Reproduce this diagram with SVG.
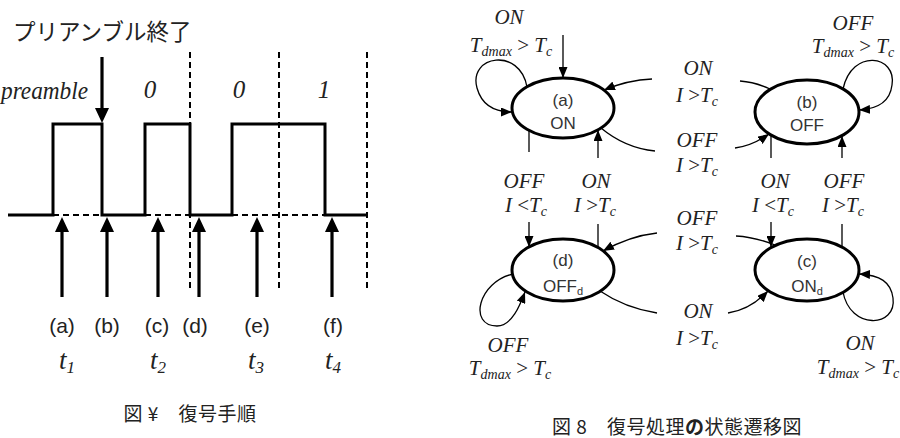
<svg xmlns="http://www.w3.org/2000/svg" width="900" height="438" viewBox="0 0 900 438">
<style>
.sig{fill:none;stroke:#000;stroke-width:3}
.dash{fill:none;stroke:#000;stroke-width:2;stroke-dasharray:6,4}
.big{stroke:#000;stroke-width:3.2;fill:none}
.thin{fill:none;stroke:#000;stroke-width:1.3}
.node{fill:#fff;stroke:#000;stroke-width:3}
.jp{font-family:"Noto Sans CJK JP",sans-serif;fill:#222}
.it{font-family:"Liberation Serif",serif;font-style:italic;fill:#222}
.ns{font-family:"Liberation Sans",sans-serif;fill:#333;font-size:17px;text-anchor:middle}
.lb{font-family:"Liberation Serif",serif;font-size:21px;text-anchor:middle;fill:#222}
.sb{font-style:italic;font-size:14px}
.ab{font-family:"Liberation Sans",sans-serif;font-size:21px;fill:#222;text-anchor:middle}
</style>
<defs>
<marker id="bh" viewBox="0 -7 15 14" refX="0" refY="0" markerWidth="15" markerHeight="14" markerUnits="userSpaceOnUse" orient="auto"><path d="M0,-7 L15,0 L0,7 z" fill="#000"/></marker>
<marker id="ah" viewBox="0 -4.5 11 9" refX="11" refY="0" markerWidth="11" markerHeight="9" markerUnits="userSpaceOnUse" orient="auto"><path d="M0,-4.5 L11,0 L0,4.5 z" fill="#000"/></marker>
</defs>

<!-- Left figure -->
<g id="left-figure">
<text class="jp" x="13" y="40" font-size="22.5">プリアンブル終了</text>
<text class="it" x="1" y="99" font-size="25" textLength="87" lengthAdjust="spacingAndGlyphs">preamble</text>
<text class="it" x="150" y="98" font-size="25" text-anchor="middle">0</text>
<text class="it" x="239" y="98" font-size="25" text-anchor="middle">0</text>
<text class="it" x="324" y="98" font-size="25" text-anchor="middle">1</text>
<line class="dash" x1="190" y1="52" x2="190" y2="292"/>
<line class="dash" x1="279" y1="52" x2="279" y2="292"/>
<line class="dash" x1="367" y1="52" x2="367" y2="292"/>
<path class="dash" d="M53,215 H102 M145,215 H190 M232,215 H325"/>
<path class="sig" d="M8,215 H53 V124 H102 V215 H145 V124 H190 V215 H232 V124 H325 V215 H367"/>
<line class="big" x1="102" y1="57" x2="102" y2="108" marker-end="url(#bh)"/>
</g>
<g id="sample-arrows">
<line class="big" x1="62" y1="297" x2="62" y2="232" marker-end="url(#bh)"/>
<line class="big" x1="107" y1="297" x2="107" y2="232" marker-end="url(#bh)"/>
<line class="big" x1="158" y1="297" x2="158" y2="232" marker-end="url(#bh)"/>
<line class="big" x1="199" y1="297" x2="199" y2="232" marker-end="url(#bh)"/>
<line class="big" x1="257" y1="297" x2="257" y2="232" marker-end="url(#bh)"/>
<line class="big" x1="332" y1="297" x2="332" y2="232" marker-end="url(#bh)"/>
</g>
<g id="sample-labels">
<text class="ab" x="62" y="333">(a)</text>
<text class="ab" x="107" y="333">(b)</text>
<text class="ab" x="157" y="333">(c)</text>
<text class="ab" x="195" y="333">(d)</text>
<text class="ab" x="257" y="333">(e)</text>
<text class="ab" x="333" y="333">(f)</text>
<text class="it" x="59" y="369" font-size="27">t<tspan font-size="17" dy="4">1</tspan></text>
<text class="it" x="150" y="369" font-size="27">t<tspan font-size="17" dy="4">2</tspan></text>
<text class="it" x="248" y="369" font-size="27">t<tspan font-size="17" dy="4">3</tspan></text>
<text class="it" x="325" y="369" font-size="27">t<tspan font-size="17" dy="4">4</tspan></text>
<text class="jp" x="190" y="421" font-size="19" text-anchor="middle" letter-spacing="0.5">図 ¥　復号手順</text>
</g>

<!-- Right figure: state diagram -->
<g id="connectors">
<line class="thin" x1="563" y1="35" x2="563" y2="78" marker-end="url(#ah)"/>
<path class="thin" d="M527,87 C520,47 468,55 477,88 C482,106 496,112 512,112" marker-end="url(#ah)"/>
<path class="thin" d="M770,89 Q755,82 740,81"/>
<path class="thin" d="M652,79 Q628,80 604,90" marker-end="url(#ah)"/>
<path class="thin" d="M601,128 Q625,148 655,151"/>
<path class="thin" d="M735,148 Q752,146 769,134" marker-end="url(#ah)"/>
<line class="thin" x1="529" y1="130" x2="529" y2="152"/>
<line class="thin" x1="529" y1="222" x2="529" y2="247" marker-end="url(#ah)"/>
<line class="thin" x1="598" y1="247" x2="598" y2="224"/>
<line class="thin" x1="598" y1="158" x2="598" y2="130" marker-end="url(#ah)"/>
<line class="thin" x1="771" y1="135" x2="771" y2="158"/>
<line class="thin" x1="771" y1="222" x2="771" y2="247" marker-end="url(#ah)"/>
<line class="thin" x1="842" y1="247" x2="842" y2="224"/>
<line class="thin" x1="842" y1="158" x2="842" y2="136" marker-end="url(#ah)"/>
<path class="thin" d="M843,89 C852,48 897,55 892,85 C890,102 878,109 859,110" marker-end="url(#ah)"/>
<path class="thin" d="M775,245 Q755,237 736,236"/>
<path class="thin" d="M657,233 Q630,236 603,251" marker-end="url(#ah)"/>
<path class="thin" d="M600,291 Q625,308 657,313"/>
<path class="thin" d="M728,313 Q750,310 768,291" marker-end="url(#ah)"/>
<path class="thin" d="M513,274 C478,282 468,326 497,326 C512,326 520,305 525,292" marker-end="url(#ah)"/>
<path class="thin" d="M843,292 C850,330 897,328 893,298 C891,282 880,275 859,274" marker-end="url(#ah)"/>
</g>

<g id="node-a">
<ellipse class="node" cx="563" cy="108" rx="51" ry="30"/>
<text class="ns" x="563" y="106">(a)</text>
<text class="ns" x="563" y="129">ON</text>
</g>
<g id="node-b">
<ellipse class="node" cx="807" cy="112" rx="52" ry="32"/>
<text class="ns" x="807" y="108">(b)</text>
<text class="ns" x="807" y="131">OFF</text>
</g>
<g id="node-d">
<ellipse class="node" cx="563" cy="270" rx="51" ry="31"/>
<text class="ns" x="563" y="266">(d)</text>
<text class="ns" x="563" y="292">OFF<tspan font-size="11" dy="3">d</tspan></text>
</g>
<g id="node-c">
<ellipse class="node" cx="807" cy="270" rx="52" ry="31"/>
<text class="ns" x="807" y="267">(c)</text>
<text class="ns" x="807" y="292">ON<tspan font-size="11" dy="3">d</tspan></text>
</g>

<g id="labels">
<text class="lb" x="509" y="24" font-style="italic">ON</text>
<text class="lb" x="511" y="52"><tspan font-style="italic">T</tspan><tspan class="sb" dy="4">dmax</tspan><tspan dy="-4"> &gt; </tspan><tspan font-style="italic">T</tspan><tspan class="sb" dy="4">c</tspan></text>

<text class="lb" x="853" y="30" font-style="italic">OFF</text>
<text class="lb" x="853" y="53"><tspan font-style="italic">T</tspan><tspan class="sb" dy="4">dmax</tspan><tspan dy="-4"> &gt; </tspan><tspan font-style="italic">T</tspan><tspan class="sb" dy="4">c</tspan></text>

<text class="lb" x="698" y="75" font-style="italic">ON</text>
<text class="lb" x="697" y="102"><tspan font-style="italic">I</tspan> &gt;<tspan font-style="italic">T</tspan><tspan class="sb" dy="4">c</tspan></text>
<text class="lb" x="697" y="147" font-style="italic">OFF</text>
<text class="lb" x="697" y="172"><tspan font-style="italic">I</tspan> &gt;<tspan font-style="italic">T</tspan><tspan class="sb" dy="4">c</tspan></text>

<text class="lb" x="524" y="188" font-style="italic">OFF</text>
<text class="lb" x="526" y="212"><tspan font-style="italic">I</tspan> &lt;<tspan font-style="italic">T</tspan><tspan class="sb" dy="4">c</tspan></text>
<text class="lb" x="596" y="188" font-style="italic">ON</text>
<text class="lb" x="595" y="212"><tspan font-style="italic">I</tspan> &gt;<tspan font-style="italic">T</tspan><tspan class="sb" dy="4">c</tspan></text>

<text class="lb" x="775" y="188" font-style="italic">ON</text>
<text class="lb" x="773" y="212"><tspan font-style="italic">I</tspan> &lt;<tspan font-style="italic">T</tspan><tspan class="sb" dy="4">c</tspan></text>
<text class="lb" x="844" y="188" font-style="italic">OFF</text>
<text class="lb" x="843" y="212"><tspan font-style="italic">I</tspan> &gt;<tspan font-style="italic">T</tspan><tspan class="sb" dy="4">c</tspan></text>

<text class="lb" x="697" y="225" font-style="italic">OFF</text>
<text class="lb" x="697" y="250"><tspan font-style="italic">I</tspan> &gt;<tspan font-style="italic">T</tspan><tspan class="sb" dy="4">c</tspan></text>
<text class="lb" x="698" y="318" font-style="italic">ON</text>
<text class="lb" x="697" y="345"><tspan font-style="italic">I</tspan> &gt;<tspan font-style="italic">T</tspan><tspan class="sb" dy="4">c</tspan></text>

<text class="lb" x="508" y="352" font-style="italic">OFF</text>
<text class="lb" x="510" y="375"><tspan font-style="italic">T</tspan><tspan class="sb" dy="4">dmax</tspan><tspan dy="-4"> &gt; </tspan><tspan font-style="italic">T</tspan><tspan class="sb" dy="4">c</tspan></text>
<text class="lb" x="860" y="350" font-style="italic">ON</text>
<text class="lb" x="858" y="374"><tspan font-style="italic">T</tspan><tspan class="sb" dy="4">dmax</tspan><tspan dy="-4"> &gt; </tspan><tspan font-style="italic">T</tspan><tspan class="sb" dy="4">c</tspan></text>

<text class="jp" x="677" y="434" font-size="19" text-anchor="middle" letter-spacing="0.5">図 8　復号処理<tspan font-weight="bold">の</tspan>状態遷移図</text>
</g>
</svg>
